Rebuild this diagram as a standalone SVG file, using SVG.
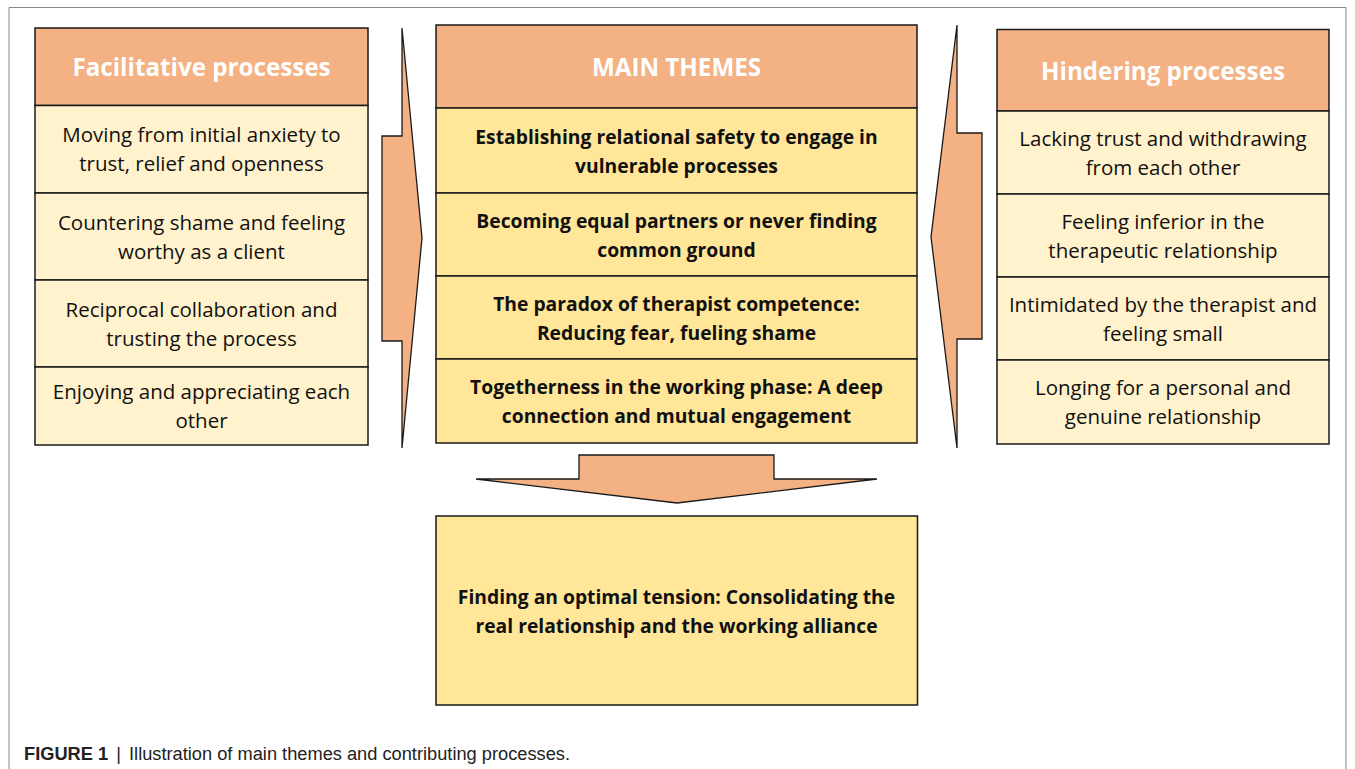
<svg xmlns="http://www.w3.org/2000/svg" width="1355" height="769" viewBox="0 0 1355 769">
<style>
.hdr{fill:#F4B183;stroke:#1a1a1a;stroke-width:1.5}
.lt{fill:#FFF2CC;stroke:#1a1a1a;stroke-width:1.5}
.md{fill:#FFE699;stroke:#1a1a1a;stroke-width:1.5}
.arr{fill:#F4B183;stroke:#1a1a1a;stroke-width:1.3;stroke-linejoin:miter}
.ht{font-family:"Open Sans",Lato,sans-serif;font-weight:bold;font-size:24.2px;fill:#ffffff;text-anchor:middle}
.t{font-family:"Open Sans",Lato,sans-serif;font-size:20.5px;fill:#111;text-anchor:middle}
.tb{font-family:"Open Sans",Lato,sans-serif;font-weight:bold;font-size:19.3px;fill:#111;text-anchor:middle}
.cap{font-family:"Liberation Sans",Arial,sans-serif;font-size:18px;fill:#222}
</style>
<rect x="0" y="0" width="1355" height="769" fill="#ffffff"/>
<path d="M9,769 V7.5 H1346 V769" fill="none" stroke="#888" stroke-width="1"/>

<g id="facilitative">
<rect class="hdr" x="35" y="28" width="333" height="77.5"/>
<text class="ht" x="201.5" y="75.5">Facilitative processes</text>
<rect class="lt" x="35" y="105.5" width="333" height="87.5"/>
<text class="t" x="201.5" y="142">Moving from initial anxiety to</text>
<text class="t" x="201.5" y="171">trust, relief and openness</text>
<rect class="lt" x="35" y="193" width="333" height="87"/>
<text class="t" x="201.5" y="229.5">Countering shame and feeling</text>
<text class="t" x="201.5" y="258.5">worthy as a client</text>
<rect class="lt" x="35" y="280" width="333" height="87"/>
<text class="t" x="201.5" y="316.5">Reciprocal collaboration and</text>
<text class="t" x="201.5" y="345.5">trusting the process</text>
<rect class="lt" x="35" y="367" width="333" height="78"/>
<text class="t" x="201.5" y="399">Enjoying and appreciating each</text>
<text class="t" x="201.5" y="428">other</text>
</g>

<g id="main-themes">
<rect class="hdr" x="436" y="25" width="481" height="83"/>
<text class="ht" x="676.5" y="75.5">MAIN THEMES</text>
<rect class="md" x="436" y="108" width="481" height="85"/>
<text class="tb" x="676.5" y="144">Establishing relational safety to engage in</text>
<text class="tb" x="676.5" y="173">vulnerable processes</text>
<rect class="md" x="436" y="193" width="481" height="83"/>
<text class="tb" x="676.5" y="228">Becoming equal partners or never finding</text>
<text class="tb" x="676.5" y="257">common ground</text>
<rect class="md" x="436" y="276" width="481" height="83"/>
<text class="tb" x="676.5" y="311">The paradox of therapist competence:</text>
<text class="tb" x="676.5" y="340">Reducing fear, fueling shame</text>
<rect class="md" x="436" y="359" width="481" height="84"/>
<text class="tb" x="676.5" y="394">Togetherness in the working phase: A deep</text>
<text class="tb" x="676.5" y="423">connection and mutual engagement</text>
</g>

<g id="hindering">
<rect class="hdr" x="997" y="29.5" width="332" height="81.5"/>
<text class="ht" x="1163" y="79.5">Hindering processes</text>
<rect class="lt" x="997" y="111" width="332" height="83"/>
<text class="t" x="1163" y="146">Lacking trust and withdrawing</text>
<text class="t" x="1163" y="175">from each other</text>
<rect class="lt" x="997" y="194" width="332" height="83"/>
<text class="t" x="1163" y="229">Feeling inferior in the</text>
<text class="t" x="1163" y="258">therapeutic relationship</text>
<rect class="lt" x="997" y="277" width="332" height="83"/>
<text class="t" x="1163" y="312">Intimidated by the therapist and</text>
<text class="t" x="1163" y="341">feeling small</text>
<rect class="lt" x="997" y="360" width="332" height="84"/>
<text class="t" x="1163" y="395">Longing for a personal and</text>
<text class="t" x="1163" y="424">genuine relationship</text>
</g>

<g id="outcome">
<rect class="md" x="436" y="516" width="481.5" height="189"/>
<text class="tb" x="676.5" y="604">Finding an optimal tension: Consolidating the</text>
<text class="tb" x="676.5" y="633">real relationship and the working alliance</text>
</g>

<g id="connectors">
<polygon class="arr" points="402,28 422,238 402,448 402,341 382,341 382,136 402,136"/>
<polygon class="arr" points="957,25 931,237 957,448 957,339 982,339 982,133 957,133"/>
<polygon class="arr" points="579,455 774,455 774,479 877,479 677,503 476,479 579,479"/>
</g>

<text class="cap" x="24" y="760" textLength="546" lengthAdjust="spacingAndGlyphs"><tspan font-weight="bold">FIGURE 1</tspan><tspan dx="8">|</tspan><tspan dx="8">Illustration of main themes and contributing processes.</tspan></text>
</svg>
